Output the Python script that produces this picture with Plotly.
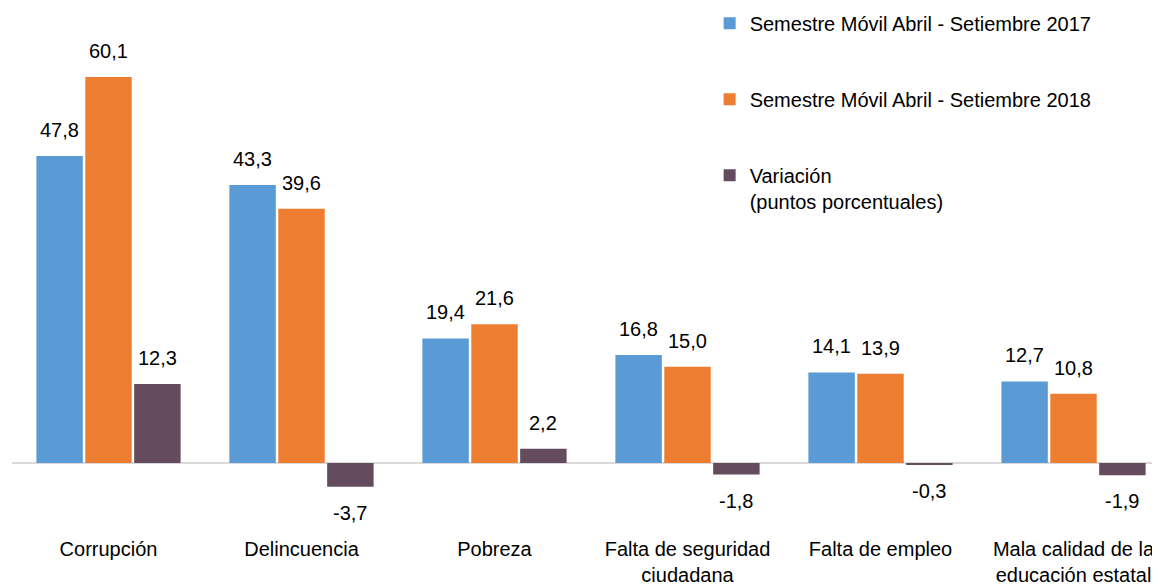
import plotly.graph_objects as go

categories = ["Corrupción", "Delincuencia", "Pobreza",
              "Falta de seguridad<br>ciudadana", "Falta de empleo",
              "Mala calidad de la<br>educación estatal"]
s2017 = [47.8, 43.3, 19.4, 16.8, 14.1, 12.7]
s2018 = [60.1, 39.6, 21.6, 15.0, 13.9, 10.8]
variacion = [12.3, -3.7, 2.2, -1.8, -0.3, -1.9]

names = ["Semestre Móvil Abril - Setiembre 2017",
         "Semestre Móvil Abril - Setiembre 2018",
         "Variación<br>(puntos porcentuales)"]
colors = ["#5B9BD5", "#ED7D31", "#644B5E"]
series = [s2017, s2018, variacion]

FONT = "Liberation Sans, Arial, sans-serif"
FS = 20
BARGAP = 0.24

x_idx = list(range(len(categories)))

fig = go.Figure()
for i, (vals, name, col) in enumerate(zip(series, names, colors)):
    fig.add_trace(go.Bar(
        x=x_idx, y=vals, name=name, marker_color=col,
        marker_line_width=0, legendgroup=f"g{i}",
    ))

# data labels
slot = (1 - BARGAP) / 3
annotations = []
for i, vals in enumerate(series):
    off = (i - 1) * slot
    for k, v in enumerate(vals):
        txt = f"{v:.1f}".replace(".", ",")
        annotations.append(dict(
            x=k + off, y=v, xref="x", yref="y", text=txt, showarrow=False,
            yanchor="bottom" if v >= 0 else "top",
            yshift=13 if v >= 0 else -13,
            font=dict(family=FONT, size=FS, color="#000000"),
        ))

fig.update_layout(
    width=1152, height=577,
    margin=dict(l=4, r=0, t=0, b=50, autoexpand=False),
    paper_bgcolor="white", plot_bgcolor="white",
    barmode="group", bargap=BARGAP, bargroupgap=0.05,
    font=dict(family=FONT, size=FS, color="#000000"),
    showlegend=True,
    legend=dict(x=0.6077, y=1.008, xanchor="left", yanchor="top",
                traceorder="grouped", tracegroupgap=47, valign="top",
                bgcolor="rgba(0,0,0,0)",
                font=dict(family=FONT, size=FS, color="#000000")),
    annotations=annotations,
    xaxis=dict(tickmode="array", tickvals=x_idx, ticktext=categories,
               range=[-0.5, -0.5 + 1148 / 193], showgrid=False,
               showline=False, ticks="", zeroline=False,
               tickfont=dict(family=FONT, size=FS, color="#000000")),
    yaxis=dict(range=[-11.21, 70.84], visible=False, showgrid=False,
               zeroline=False),
)
fig.add_hline(y=0, line_color="#D9D9D9", line_width=2, layer="below")

fig.write_html("out.html")
